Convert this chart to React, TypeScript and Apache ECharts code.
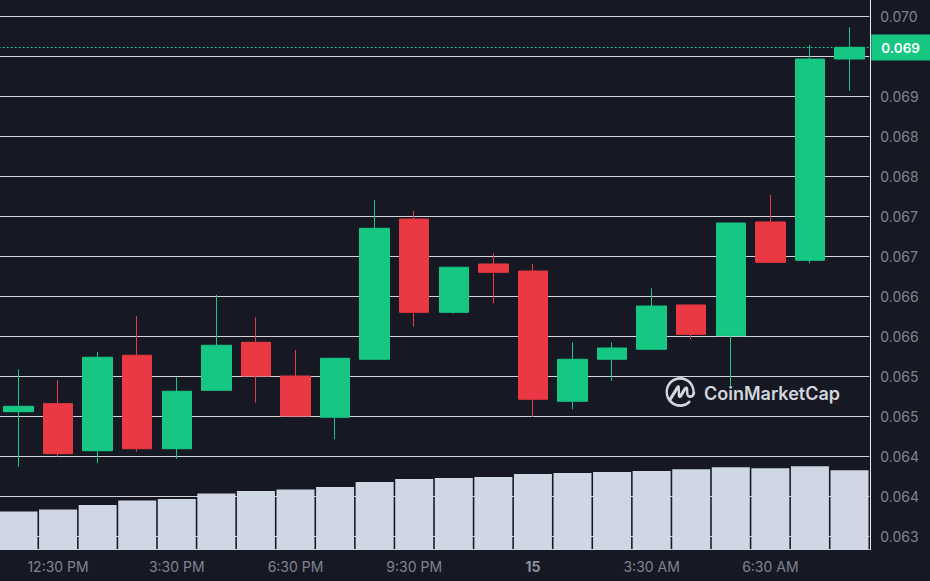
import { useEffect, useRef } from "react";
import * as echarts from "echarts";

const times = [
  "11:30 AM", "12:30 PM", "1:30 PM", "2:30 PM", "3:30 PM", "4:30 PM", "5:30 PM", "6:30 PM",
  "7:30 PM", "8:30 PM", "9:30 PM", "10:30 PM", "11:30 PM", "15", "1:30 AM", "2:30 AM",
  "3:30 AM", "4:30 AM", "5:30 AM", "6:30 AM", "7:30 AM", "8:30 AM",
];
const opens = [
  0.065054, 0.065154, 0.064566, 0.065759, 0.064591, 0.065321, 0.065921, 0.0655, 0.064984, 0.065709, 0.067462,
  0.066296, 0.0669, 0.066812, 0.065184, 0.065709, 0.065834, 0.066388, 0.066004, 0.067425, 0.066946, 0.069462,
];
const closes = [
  0.065121, 0.064529, 0.065734, 0.064591, 0.065309, 0.065884, 0.0655, 0.065, 0.065721, 0.067346, 0.066296,
  0.066859, 0.066796, 0.065209, 0.065709, 0.06585, 0.066375, 0.066021, 0.067412, 0.066921, 0.069462, 0.069609,
];
const lows = [
  0.064366, 0.064491, 0.064409, 0.064554, 0.064466, 0.065321, 0.065166, 0.065, 0.064709, 0.065709, 0.066116,
  0.066279, 0.066409, 0.064988, 0.065084, 0.065441, 0.065834, 0.065962, 0.065366, 0.066921, 0.066909, 0.069066,
];
const highs = [
  0.065584, 0.06545, 0.065796, 0.06625, 0.065484, 0.066516, 0.066234, 0.065825, 0.065721, 0.0677, 0.067562,
  0.066859, 0.067034, 0.0669, 0.065921, 0.065921, 0.066596, 0.066388, 0.067412, 0.067762, 0.069638, 0.069859,
];
const volumes = [
  38, 40, 44.5, 49, 50.5, 56, 58.5, 60, 62.5, 67.5, 70.5,
  71.5, 72.5, 75.5, 76.5, 77.5, 78.5, 80.2, 82.2, 81.2, 83.2, 79.2,
];
const yTickLabels = [
  "0.063", "0.064", "0.064", "0.065", "0.065", "0.066", "0.066",
  "0.067", "0.067", "0.068", "0.068", "0.069", "", "0.070",
];
const lastPrice = 0.069606;
const labelledTimes = ["12:30 PM", "3:30 PM", "6:30 PM", "9:30 PM", "15", "3:30 AM", "6:30 AM"];

const GREEN = "#16c784";
const RED = "#ea3943";
const TEXT = "#80838f";
const LINE = "#d3d5da";
// the first band starts left of the page, and grid.left can't go negative
const BLEED = 2;

const LOGO =
  "M20.738 14.341c-.419.265-.912.298-1.286.087-.476-.27-.738-.898-.738-1.774v-2.618c0-1.264-.5-2.164-1.336-2.407-1.416-.413-2.482 1.32-2.882 1.972l-2.498 4.05v-4.95c-.028-1.14-.398-1.821-1.1-2.027-.466-.135-1.161-.081-1.837.953l-5.597 8.987A9.875 9.875 0 0 1 2.326 12c0-5.444 4.403-9.873 9.816-9.873 5.413 0 9.817 4.429 9.817 9.873.004.019.003.036.005.055.028.73-.206 1.31-.648 1.592l.422.694zm3.124-2.34v-.001c-.002-.028-.002-.056-.002-.083C23.84 5.345 18.57.06 12.14.06 5.7.06.42 5.38.42 12c0 6.617 5.28 12 11.72 12 2.96 0 5.79-1.13 7.96-3.19.44-.42.47-1.11.07-1.57-.39-.46-1.07-.49-1.51-.09-1.77 1.68-4.13 2.65-6.52 2.65-2.8 0-5.32-1.24-7.05-3.2l5.05-8.1v3.73c0 1.8.7 2.38 1.28 2.55.58.17 1.47.05 2.41-1.47l2.77-4.49c.09-.14.17-.27.25-.37v2.28c0 1.68.68 3.03 1.86 3.69 1.06.6 2.4.55 3.49-.14 1.33-.84 2.04-2.37 1.97-4.2z";

echarts.graphic.registerShape("cmcLogo", echarts.graphic.extendPath(LOGO, {}));

export default function App() {
  const ref = useRef<HTMLDivElement | null>(null);

  useEffect(() => {
    if (!ref.current) return;
    document.body.style.margin = "0";
    const chart = echarts.init(ref.current, null, { renderer: "svg" });
    const showTime = (_: number, value: string) => labelledTimes.includes(value);
    chart.setOption({
      animation: false,
      backgroundColor: "#161924",
      textStyle: { fontFamily: "Inter" },
      grid: [
        { left: BLEED - 1.3, width: 870.6, top: 16, height: 520 },
        { left: BLEED - 1.3, width: 870.6, top: 0, height: 549.5 },
      ],
      xAxis: [
        { type: "category", gridIndex: 0, data: times, show: false },
        {
          type: "category",
          gridIndex: 1,
          data: times,
          axisLine: { lineStyle: { color: "#cfd6e4", width: 1 } },
          axisTick: { interval: showTime, alignWithLabel: true, length: 4, lineStyle: { color: "#e8eaf0" } },
          axisLabel: {
            interval: showTime,
            color: TEXT,
            fontFamily: "Inter",
            fontSize: 14,
            margin: 10,
            formatter: (value: string) => (value === "15" ? "{day|15}" : value),
            rich: { day: { color: "#8a8e9c", fontFamily: "Inter", fontSize: 14, fontWeight: 700 } },
          },
        },
      ],
      yAxis: [
        {
          type: "value",
          gridIndex: 0,
          position: "right",
          min: 0.0635,
          max: 0.07,
          interval: 0.0005,
          axisLine: { show: false },
          axisTick: { show: false },
          splitLine: { lineStyle: { color: LINE, width: 1 } },
          axisLabel: {
            color: TEXT,
            fontFamily: "Inter",
            fontSize: 14,
            margin: 11,
            formatter: (_: number, i: number) => yTickLabels[i],
          },
        },
        {
          type: "value",
          gridIndex: 1,
          position: "right",
          offset: 1,
          min: 0,
          max: 549.5,
          axisLine: { show: true, lineStyle: { color: "#e8eaf0", width: 1 } },
          axisTick: { show: false },
          axisLabel: { show: false },
          splitLine: { show: false },
        },
      ],
      series: [
        {
          type: "bar",
          xAxisIndex: 1,
          yAxisIndex: 1,
          data: volumes,
          barWidth: 38,
          itemStyle: { color: "#cfd6e4" },
        },
        {
          type: "candlestick",
          xAxisIndex: 0,
          yAxisIndex: 0,
          data: times.map((_, i) => [opens[i], closes[i], lows[i], highs[i]]),
          barWidth: 30,
          itemStyle: { color: GREEN, color0: RED, borderColor: GREEN, borderColor0: RED, borderWidth: 1 },
        },
        {
          // empty line series, only here to carry the last price line and its tag
          type: "line",
          xAxisIndex: 0,
          yAxisIndex: 0,
          data: [],
          markLine: {
            silent: true,
            symbol: "none",
            precision: 6,
            data: [{ yAxis: lastPrice }],
            lineStyle: { color: GREEN, type: [2, 2], width: 1, opacity: 1 },
            label: {
              position: "end",
              distance: 2,
              formatter: "0.069",
              color: "#ffffff",
              fontFamily: "Inter",
              fontSize: 13.5,
              fontWeight: 600,
              backgroundColor: GREEN,
              width: 42,
              padding: [6, 7, 6, 10],
              align: "left",
            },
          },
        },
      ],
      graphic: [
        {
          type: "cmcLogo",
          x: BLEED + 665,
          y: 377,
          scaleX: 1.25,
          scaleY: 1.25,
          style: { fill: "#d3d6dd" },
        },
        {
          type: "text",
          x: BLEED + 704,
          y: 393,
          style: {
            text: "CoinMarketCap",
            fill: "#d3d6dd",
            font: "600 18px Inter",
            textVerticalAlign: "middle",
          },
        },
      ],
    });
    return () => chart.dispose();
  }, []);

  return (
    <div style={{ width: 930, height: 581, overflow: "hidden" }}>
      <div ref={ref} style={{ width: 930 + BLEED, height: 581, marginLeft: -BLEED }} />
    </div>
  );
}
